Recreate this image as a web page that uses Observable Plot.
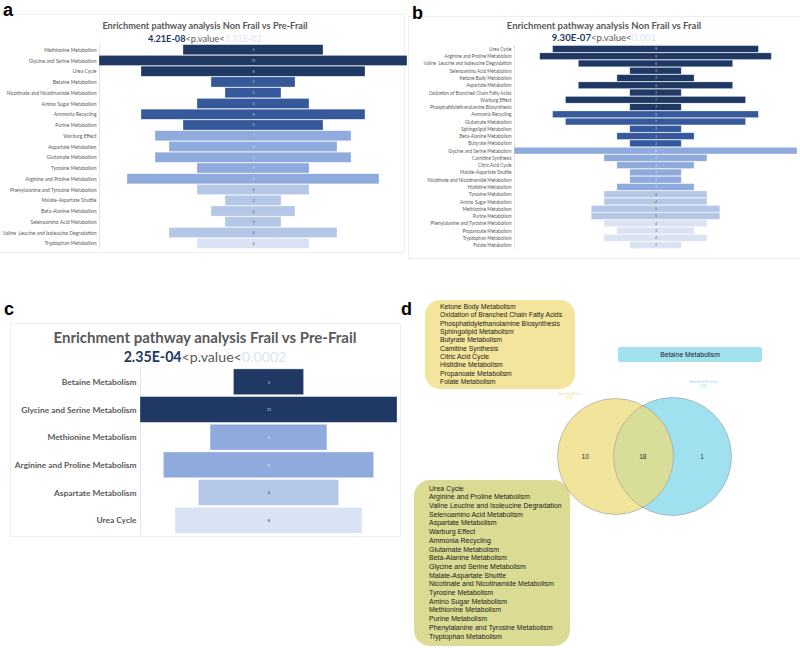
<!DOCTYPE html>
<html><head><meta charset="utf-8">
<script src="https://cdn.jsdelivr.net/npm/d3@7"></script>
<script src="https://cdn.jsdelivr.net/npm/@observablehq/plot@0.6"></script>
<style>
body{margin:0;background:#fff;font-family:Lato,sans-serif}
#fig{position:relative;width:800px;height:648px;overflow:hidden;background:#fff}
.abs{position:absolute}
.letter{font-family:"Liberation Sans",Arial,sans-serif;font-weight:bold;font-size:18px;color:#000;line-height:18px}
.frame{border:1px solid #eeeeee;box-sizing:border-box}
.title{color:#595959;font-weight:bold;text-align:center;white-space:nowrap}
.sub{color:#595959;text-align:center;white-space:nowrap}
.sub b{color:#203864}
.sub span{color:#dae3f3}
.box{font-family:"Liberation Sans",Arial,sans-serif;color:#1a1a1a;white-space:nowrap;box-sizing:border-box}
</style></head><body>
<div id="fig"></div>
<script>
// ---------- data ----------
const aPathways = ["Methionine Metabolism","Glycine and Serine Metabolism","Urea Cycle","Betaine Metabolism","Nicotinate and Nicotinamide Metabolism","Amino Sugar Metabolism","Ammonia Recycling","Purine Metabolism","Warburg Effect","Aspartate Metabolism","Glutamate Metabolism","Tyrosine Metabolism","Arginine and Proline Metabolism","Phenylalanine and Tyrosine Metabolism","Malate-Aspartate Shuttle","Beta-Alanine Metabolism","Selenoamino Acid Metabolism","Valine  Leucine and Isoleucine Degradation","Tryptophan Metabolism"];
const aCounts = [5,11,8,3,2,4,8,5,7,6,7,4,9,4,2,3,2,6,4];
const aTiers  = [1,1,1,2,2,2,2,2,3,3,3,3,3,4,4,4,4,4,5];

const bPathways = ["Urea Cycle","Arginine and Proline Metabolism","Valine  Leucine and Isoleucine Degradation","Selenoamino Acid Metabolism","Ketone Body Metabolism","Aspartate Metabolism","Oxidation of Branched Chain Fatty Acids","Warburg Effect","Phosphatidylethanolamine Biosynthesis","Ammonia Recycling","Glutamate Metabolism","Sphingolipid Metabolism","Beta-Alanine Metabolism","Butyrate Metabolism","Glycine and Serine Metabolism","Carnitine Synthesis","Citric Acid Cycle","Malate-Aspartate Shuttle","Nicotinate and Nicotinamide Metabolism","Histidine Metabolism","Tyrosine Metabolism","Amino Sugar Metabolism","Methionine Metabolism","Purine Metabolism","Phenylalanine and Tyrosine Metabolism","Propanoate Metabolism","Tryptophan Metabolism","Folate Metabolism"];
const bCounts = [8,9,6,2,3,6,2,7,2,8,7,2,3,2,11,4,3,2,2,3,4,4,5,5,4,3,4,2];
const bTiers  = [1,1,1,1,1,1,1,1,1,2,2,2,2,2,3,3,3,3,3,3,4,4,4,4,5,5,5,5];

const cPathways = ["Betaine Metabolism","Glycine and Serine Metabolism","Methionine Metabolism","Arginine and Proline Metabolism","Aspartate Metabolism","Urea Cycle"];
const cCounts = [3,11,5,9,6,8];
const cTiers  = [1,1,3,3,4,5];

const tierColors = ["#203864","#35599a","#8faadc","#b4c7e7","#dae3f3"];

const titles = {
  a: ["Enrichment  pathway analysis Non Frail vs Pre-Frail","4.21E-08","3.31E-02"],
  b: ["Enrichment  pathway analysis Non Frail vs Frail","9.30E-07","0.001"],
  c: ["Enrichment  pathway analysis Frail vs Pre-Frail","2.35E-04","0.0002"]
};

const vennSets = ["Non-Frail/Frail", "Non-Frail/Pre-Frail"];
const vennSetSizes = [28, 20];
const vennCounts = [10, 18, 1];
const onlyFrailList = ["Ketone Body Metabolism","Oxidation of Branched Chain Fatty Acids","Phosphatidylethanolamine  Biosynthesis","Sphingolipid  Metabolism","Butyrate Metabolism","Camitine  Synthesis","Citric Acid Cycle","Histidine Metabolism","Propanoate Metabolism","Folate Metabolism"];
const onlyPreFrailList = ["Betaine Metabolism"];
const sharedList = ["Urea Cycle","Arginine  and Proline Metabolism","Valine Leucine and Isoleucine Degradation","Selenoamino  Acid Metabolism","Aspartate Metabolism","Warburg Effect","Ammonia Recycling","Glutamate  Metabolism","Beta-Alanine Metabolism","Glycine and Serine Metabolism","Malate-Aspartate Shuttle","Nicotinate and Nicotinamide Metabolism","Tyrosine Metabolism","Amino Sugar Metabolism","Methionine Metabolism","Purine Metabolism","Phenylalanine  and Tyrosine Metabolism","Tryptophan Metabolism"];

// ---------- helpers ----------
const fig = document.getElementById("fig");
function place(el, left, top, extra) {
  el.classList.add("abs");
  el.style.left = left + "px"; el.style.top = top + "px";
  if (extra) Object.assign(el.style, extra);
  fig.appendChild(el); return el;
}
function div(cls, html) { const d = document.createElement("div"); if (cls) d.className = cls; if (html != null) d.innerHTML = html; return d; }

function funnel(names, counts, tiers, o) {
  const data = names.map((name, i) => ({name, count: counts[i], tier: tiers[i]}));
  return Plot.plot({
    width: o.width, height: o.height,
    marginLeft: o.marginLeft, marginRight: o.marginRight, marginTop: 0, marginBottom: 0,
    x: {domain: [-5.5, 5.5], axis: null},
    y: {domain: names, padding: o.padding, round: false, axis: null},
    color: {domain: [1,2,3,4,5], range: tierColors},
    style: {fontFamily: "Lato, sans-serif", background: "transparent", overflow: "visible"},
    marks: [
      Plot.ruleX([-5.5], {stroke: "#e3e3e3", strokeWidth: 1}),
      Plot.barX(data, {y: "name", x1: d => -d.count / 2, x2: d => d.count / 2, fill: "tier", stroke: "#ffffff", strokeOpacity: 0.5, strokeWidth: 0.6}),
      Plot.text(data.filter(d => d.tier <= 3), {y: "name", x: 0, text: "count", fill: "#ffffff", fillOpacity: 0.8, fontSize: o.valueFont}),
      Plot.text(data.filter(d => d.tier > 3), {y: "name", x: 0, text: "count", fill: "#404040", fontSize: o.valueFont}),
      Plot.axisY({tickSize: 0, tickPadding: o.tickPadding, fontSize: o.fontSize, fill: "#595959", fontWeight: o.fontWeight, textStroke: "none", label: null})
    ]
  });
}

function heading(key, cx, top, w, tSize, sSize, gap) {
  const [t, lo, hi] = titles[key];
  const d1 = div("title", t);
  place(d1, cx - w/2, top, {width: w + "px", fontSize: tSize + "px", lineHeight: (tSize*1.2) + "px"});
  const d2 = div("sub", `<b>${lo}</b>&lt;p.value&lt;<span>${hi}</span>`);
  place(d2, cx - w/2, top + gap, {width: w + "px", fontSize: sSize + "px", lineHeight: (sSize*1.2) + "px"});
}

// ---------- frames & letters ----------
place(div("frame"), -1, 14, {width: "406px", height: "239px"});
place(div("frame"), 408, 16, {width: "393px", height: "243px"});
place(div("frame"), 10, 323, {width: "391px", height: "214px"});
place(div("letter", "a"), 3, 1);
place(div("letter", "b"), 412, 4);
place(div("letter", "c"), 4, 300);
place(div("letter", "d"), 401, 300);

// ---------- panel a ----------
heading("a", 205, 20, 400, 9.2, 9.2, 12.5);
place(funnel(aPathways, aCounts, aTiers, {width: 410, height: 205, marginLeft: 99, marginRight: 3, padding: 0.06, fontSize: 5, fontWeight: "normal", tickPadding: 3, valueFont: 3}), 0, 44);

// ---------- panel b ----------
heading("b", 604, 19.5, 390, 9.5, 9.6, 12.5);
place(funnel(bPathways, bCounts, bTiers, {width: 395, height: 204, marginLeft: 109, marginRight: 3, padding: 0.08, fontSize: 4.7, fontWeight: "normal", tickPadding: 3, valueFont: 2.8}), 405, 45);

// ---------- panel c ----------
heading("c", 205, 327.5, 390, 15, 14.2, 20);
place(funnel(cPathways, cCounts, cTiers, {width: 400, height: 168, marginLeft: 140, marginRight: 3, padding: 0.07, fontSize: 8.4, fontWeight: "bold", tickPadding: 4, valueFont: 4}), 0, 367);

// ---------- panel d : lists ----------
const yb = div("box", onlyFrailList.join("<br>"));
place(yb, 425, 300, {width: "150px", height: "89px", background: "#f3e59b", borderRadius: "15px", padding: "3px 0 0 15px", fontSize: "6.8px", lineHeight: "8.33px"});
const cb = div("box", onlyPreFrailList.join("<br>"));
place(cb, 618, 347, {width: "144px", height: "15px", background: "#a2e1ee", borderRadius: "2px", textAlign: "center", fontSize: "6.8px", lineHeight: "15px"});
const ob = div("box", sharedList.join("<br>"));
place(ob, 414, 480, {width: "156px", height: "166px", background: "#dcdb94", borderRadius: "16px", padding: "4.6px 0 0 15px", fontSize: "7px", lineHeight: "8.7px"});

// ---------- panel d : venn ----------
const sets = vennSets.map((s, i) => ({set: s, n: vennSetSizes[i], idx: i}));
const regions = vennCounts.map((n, i) => ({n, idx: i}));
const regionX = [-0.53, 0.48, 1.52];
const venn = Plot.plot({
  width: 220, height: 172, marginLeft: 75, marginRight: 88, marginTop: 0, marginBottom: 0,
  x: {domain: [0, 1], axis: null},
  y: {domain: [0, 1], axis: null},
  style: {fontFamily: "Liberation Sans, Arial, sans-serif", background: "transparent", overflow: "visible"},
  marks: [
    Plot.dot(sets.filter(d => d.idx === 1), {x: "idx", y: () => 0.5, r: 59, fill: "#9fe1ee", stroke: "none"}),
    Plot.dot(sets.filter(d => d.idx === 0), {x: "idx", y: () => 0.5, r: 58, fill: "#ecdc78", fillOpacity: 0.74, stroke: "none"}),
    Plot.dot(sets.filter(d => d.idx === 0), {x: "idx", y: () => 0.5, r: 58, fill: "none", stroke: "#9a9a9a", strokeWidth: 0.6}),
    Plot.dot(sets.filter(d => d.idx === 1), {x: "idx", y: () => 0.5, r: 59, fill: "none", stroke: "#9a9a9a", strokeWidth: 0.6}),
    Plot.text(sets.filter(d => d.idx === 0), {x: "idx", y: () => 0.5, text: d => `${d.set}\n(${d.n})`, dx: -46, dy: -61, fontSize: 3.4, fill: "#efd88c", lineHeight: 1.4}),
    Plot.text(sets.filter(d => d.idx === 1), {x: "idx", y: () => 0.5, text: d => `${d.set}\n(${d.n})`, dx: 31, dy: -73, fontSize: 3.4, fill: "#86d6ec", lineHeight: 1.4}),
    Plot.text(regions, {x: d => regionX[d.idx], y: () => 0.5, text: "n", fontSize: 6.6, fill: "#333333"})
  ]
});
place(venn, 540, 370);
</script>
</body></html>
